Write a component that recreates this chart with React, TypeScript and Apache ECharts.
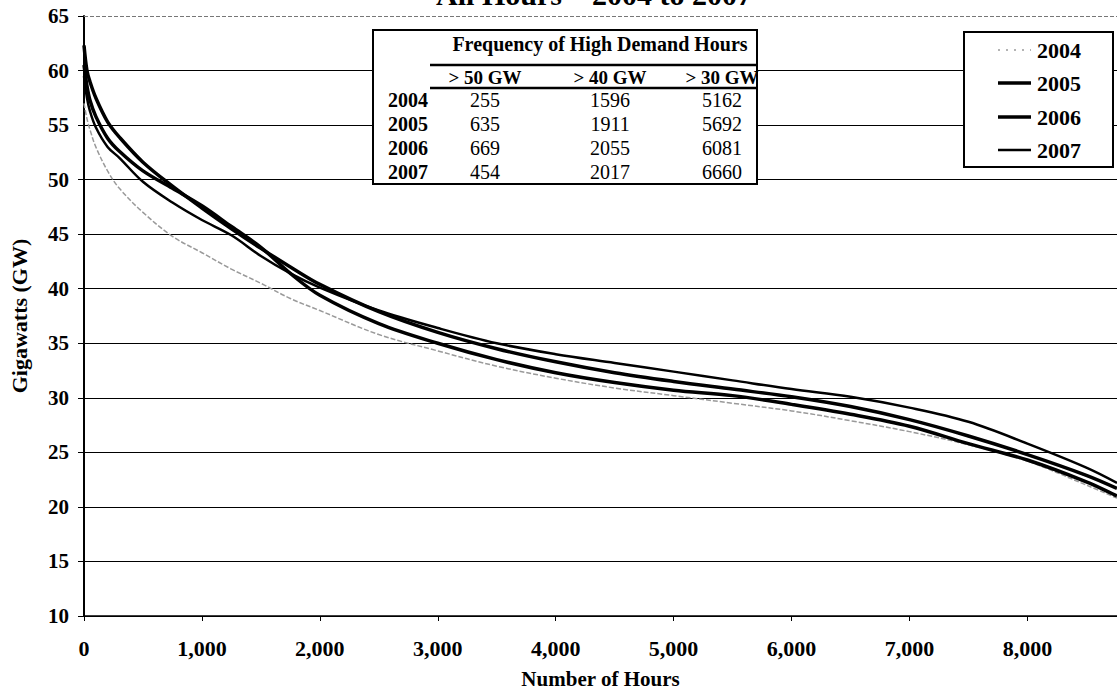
import React, { useEffect, useRef } from "react";
import * as echarts from "echarts";

const hours = [0, 25, 50, 100, 200, 300, 500, 750, 1000, 1250, 1500, 1750, 2000, 2500, 3000, 3500, 4000, 4500, 5000, 5500, 6000, 6500, 7000, 7500, 8000, 8500, 8760];
const gw2004 = [57.0, 55.6, 54.6, 53.0, 50.8, 49.2, 47.0, 44.8, 43.3, 41.8, 40.5, 39.1, 38.0, 35.8, 34.3, 32.9, 31.8, 30.9, 30.2, 29.5, 28.8, 27.9, 26.9, 25.7, 24.2, 22.0, 20.8];
const gw2005 = [60.5, 58.6, 57.3, 55.8, 53.8, 52.6, 50.8, 49.2, 47.6, 45.7, 43.8, 41.4, 39.4, 36.8, 35.0, 33.5, 32.3, 31.4, 30.7, 30.2, 29.4, 28.5, 27.4, 25.8, 24.3, 22.3, 21.0];
const gw2006 = [62.3, 60.0, 59.0, 57.5, 55.3, 53.9, 51.6, 49.4, 47.4, 45.5, 43.7, 42.0, 40.4, 37.9, 36.0, 34.5, 33.3, 32.3, 31.5, 30.8, 30.1, 29.2, 28.0, 26.5, 24.8, 22.9, 21.7];
const gw2007 = [59.5, 57.5, 56.3, 54.8, 53.0, 52.0, 49.8, 47.9, 46.3, 44.9, 43.0, 41.4, 40.1, 38.0, 36.4, 35.0, 34.0, 33.2, 32.4, 31.6, 30.8, 30.1, 29.1, 27.8, 25.8, 23.6, 22.2];

const years = ["2004", "2005", "2006", "2007"];
const tableTitle = "Frequency of High Demand Hours";
const tableCols = ["> 50 GW", "> 40 GW", "> 30 GW"];
const over50 = [255, 635, 669, 454];
const over40 = [1596, 1911, 2055, 2017];
const over30 = [5162, 5692, 6081, 6660];

const chartTitle = "All Hours \u2013 2004 to 2007";
const xName = "Number of Hours";
const yName = "Gigawatts (GW)";

const FONT = '"Liberation Serif", "Times New Roman", serif';

export default function App() {
  const ref = useRef<HTMLDivElement>(null);

  useEffect(() => {
    if (!ref.current) return;
    const chart = echarts.init(ref.current, null, { renderer: "svg" });
    const seriesVals = [gw2004, gw2005, gw2006, gw2007];
    const styles: any[] = [
      { color: "#9a9a9a", width: 1.5, type: [5, 2] },
      { color: "#000", width: 3.5, type: "solid" },
      { color: "#000", width: 3.5, type: "solid" },
      { color: "#000", width: 2.5, type: "solid" },
    ];

    const colX = [485, 610, 722];
    const rowY = [100, 124, 148, 172];
    const tableCells: any[] = [];
    years.forEach((y, i) => {
      tableCells.push({
        type: "text", x: 408, y: rowY[i], z: 11,
        style: { text: y, font: `bold 20px ${FONT}`, fill: "#000", align: "center", verticalAlign: "middle" },
      });
      [over50[i], over40[i], over30[i]].forEach((v, j) => {
        tableCells.push({
          type: "text", x: colX[j], y: rowY[i], z: 11,
          style: { text: String(v), font: `20px ${FONT}`, fill: "#000", align: "center", verticalAlign: "middle" },
        });
      });
    });
    tableCols.forEach((c, j) => {
      tableCells.push({
        type: "text", x: colX[j], y: 77, z: 11,
        style: { text: c, font: `bold 19px ${FONT}`, fill: "#000", align: "center", verticalAlign: "middle" },
      });
    });

    const legendY = [50, 83, 117, 150];
    const legendEls: any[] = [];
    years.forEach((y, i) => {
      legendEls.push({
        type: "line", z: 11,
        shape: { x1: 998, y1: legendY[i], x2: 1031, y2: legendY[i] },
        style: { stroke: styles[i].color, lineWidth: styles[i].width, lineDash: i === 0 ? [2, 6] : null },
      });
      legendEls.push({
        type: "text", x: 1037, y: legendY[i], z: 11,
        style: { text: y, font: `bold 22px ${FONT}`, fill: "#000", align: "left", verticalAlign: "middle" },
      });
    });

    chart.setOption({
      animation: false,
      backgroundColor: "#fff",
      grid: { left: 83, right: -6, top: 16, bottom: 82, containLabel: false },
      xAxis: {
        type: "value",
        min: 0,
        max: 8760,
        interval: 1000,
        name: xName,
        nameLocation: "middle",
        nameGap: 52,
        nameTextStyle: { fontFamily: FONT, fontWeight: "bold", fontSize: 21, color: "#000" },
        axisLine: { show: true, lineStyle: { color: "#000", width: 1.5 } },
        axisTick: { show: true, length: 5, lineStyle: { color: "#000" } },
        axisLabel: {
          margin: 21,
          showMaxLabel: false,
          fontFamily: FONT, fontWeight: "bold", fontSize: 22, color: "#000",
          formatter: (v: number) => v.toLocaleString("en-US"),
        },
        splitLine: { show: false },
      },
      yAxis: {
        type: "value",
        min: 10,
        max: 65,
        interval: 5,
        name: yName,
        nameLocation: "middle",
        nameGap: 54,
        nameTextStyle: { fontFamily: FONT, fontWeight: "bold", fontSize: 22, color: "#000" },
        axisLine: { show: true, lineStyle: { color: "#000", width: 2 } },
        axisTick: { show: true, length: 6, lineStyle: { color: "#000" } },
        axisLabel: { margin: 15, fontFamily: FONT, fontWeight: "bold", fontSize: 21, color: "#000" },
        splitLine: { show: true, showMaxLine: false, lineStyle: { color: "#000", width: 1 } },
      },
      series: years.map((y, i) => ({
        name: y,
        type: "line",
        symbol: "none",
        smooth: 0.35,
        color: styles[i].color,
        lineStyle: { color: styles[i].color, width: styles[i].width, type: styles[i].type },
        data: hours.map((h, k) => [h, seriesVals[i][k]]),
        markLine: i === 0 ? {
          silent: true,
          symbol: "none",
          label: { show: false },
          lineStyle: { color: "#777", type: "dashed", width: 1 },
          data: [{ yAxis: 65 }],
        } : undefined,
      })),
      graphic: [
        {
          type: "text", x: 594, y: 9, z: 11,
          style: { text: chartTitle, font: `bold 30px ${FONT}`, fill: "#000", align: "center", verticalAlign: "bottom" },
        },
        {
          type: "rect", z: 10,
          shape: { x: 373, y: 30, width: 384, height: 154 },
          style: { fill: "#fff", stroke: "#000", lineWidth: 2 },
        },
        {
          type: "text", x: 600, y: 44, z: 11,
          style: { text: tableTitle, font: `bold 20px ${FONT}`, fill: "#000", align: "center", verticalAlign: "middle" },
        },
        {
          type: "line", z: 11,
          shape: { x1: 430, y1: 65, x2: 757, y2: 65 },
          style: { stroke: "#000", lineWidth: 2.5 },
        },
        {
          type: "line", z: 11,
          shape: { x1: 430, y1: 88, x2: 757, y2: 88 },
          style: { stroke: "#000", lineWidth: 2.5 },
        },
        ...tableCells,
        {
          type: "rect", z: 10,
          shape: { x: 964, y: 32, width: 149, height: 135 },
          style: { fill: "#fff", stroke: "#000", lineWidth: 2 },
        },
        ...legendEls,
      ],
    });
    return () => chart.dispose();
  }, []);

  return (
    <div
      ref={ref}
      style={{ position: "absolute", left: 0, top: 0, width: 1117, height: 698, background: "#fff" }}
    />
  );
}
